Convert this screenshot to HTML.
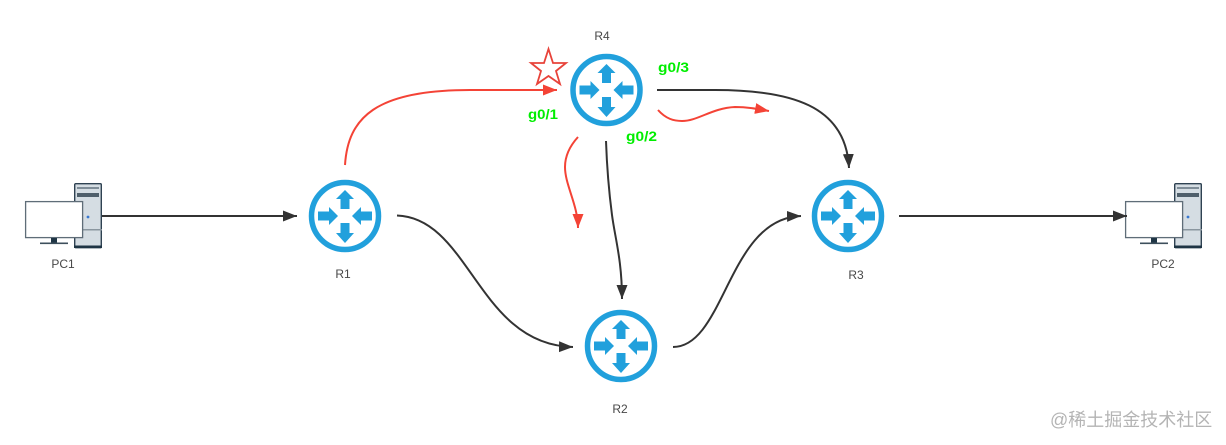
<!DOCTYPE html>
<html>
<head>
<meta charset="utf-8">
<style>
html,body{margin:0;padding:0;background:#fff;width:1226px;height:445px;overflow:hidden}
svg{display:block}
.l{font-family:"Liberation Sans",sans-serif;font-size:12px;fill:#484848}
.g{font-family:"Liberation Sans",sans-serif;font-size:14px;font-weight:bold;fill:#00ee00}
.w{font-family:"Liberation Sans","Noto Sans CJK SC",sans-serif;font-size:18px;fill:#b4b4b4}
</style>
</head>
<body>
<svg width="1226" height="445" viewBox="0 0 1226 445" xmlns="http://www.w3.org/2000/svg">
<defs>
<g id="router">
<circle cx="0" cy="0" r="33.5" fill="#fff" stroke="#21a0dc" stroke-width="5.5"/>
<g fill="#21a0dc">
<polygon points="0,-26 9,-17 4.5,-17 4.5,-7 -4.5,-7 -4.5,-17 -9,-17"/>
<polygon points="0,27 9,17 4.5,17 4.5,7 -4.5,7 -4.5,17 -9,17"/>
<polygon points="-7,0 -16,-9 -16,-4.5 -27,-4.5 -27,4.5 -16,4.5 -16,9"/>
<polygon points="7,0 16,-9 16,-4.5 27,-4.5 27,4.5 16,4.5 16,9"/>
</g>
</g>
<g id="tower">
<rect x="0.7" y="0.7" width="26.6" height="64" rx="1" fill="#d5dde3" stroke="#2f4252" stroke-width="1.4"/>
<rect x="0" y="62.5" width="28" height="2.5" fill="#1f3545"/>
<rect x="3" y="4" width="22" height="2" fill="#7f8d98"/>
<rect x="3" y="10" width="22" height="4" fill="#4f5f6b"/>
<rect x="0" y="46" width="28" height="1.5" fill="#8a969f"/>
<circle cx="14" cy="34" r="1.4" fill="#3a78d0"/>
</g>
<g id="monitor">
<rect x="0.6" y="0.6" width="57" height="36" fill="#fff" stroke="#5f6d78" stroke-width="1.3"/>
<rect x="26" y="37" width="6" height="5" fill="#1f3545"/>
<rect x="15" y="41.5" width="28" height="1.6" fill="#3d4f5c"/>
</g>
<marker id="ab" markerUnits="userSpaceOnUse" markerWidth="15" markerHeight="12" refX="14" refY="5.5" orient="auto">
<polygon points="0,0 14,5.5 0,11" fill="#333"/>
</marker>
<marker id="ar" markerUnits="userSpaceOnUse" markerWidth="15" markerHeight="12" refX="14" refY="5.5" orient="auto">
<polygon points="0,0 14,5.5 0,11" fill="#f44336"/>
</marker>
</defs>

<!-- PCs -->
<use href="#tower" x="74" y="183"/>
<use href="#monitor" x="25" y="201"/>
<use href="#tower" x="1174" y="183"/>
<use href="#monitor" x="1125" y="201"/>

<!-- black connectors -->
<g fill="none" stroke="#333" stroke-width="2">
<path d="M102 216H297" marker-end="url(#ab)"/>
<path d="M899 216H1127" marker-end="url(#ab)"/>
<path d="M397 215.5C470 218 478 345 573 347" marker-end="url(#ab)"/>
<path d="M673 347C725 347 728 218 801 216" marker-end="url(#ab)"/>
<path d="M606 141C607 170 609 192 612 215C615 238 622 260 622 299" marker-end="url(#ab)"/>
<path d="M657 90H715C790 90 846 105 849 168" marker-end="url(#ab)"/>
</g>

<!-- red connectors -->
<g fill="none" stroke="#f44336" stroke-width="2">
<path d="M345 165C348 118 375 90 470 90H557" marker-end="url(#ar)"/>
<path d="M658 110C666 119 674 121 682 121C698 121 712 108 735 107C748 107 758 109 769 111" marker-end="url(#ar)"/>
<path d="M578 137C568 148 565 158 565 167C565 185 578 205 578 228" marker-end="url(#ar)"/>
</g>

<!-- routers -->
<use href="#router" x="345" y="216"/>
<use href="#router" x="606.5" y="90"/>
<use href="#router" x="621" y="346"/>
<use href="#router" x="848" y="216"/>

<!-- star -->
<polygon points="548.5,49 553,63 566,63 556,71 560,84 548.5,76 537,84 541,71 531,63 544,63" fill="#fff" stroke="#e8433a" stroke-width="1.8"/>

<!-- labels -->
<text class="l" x="63" y="268" text-anchor="middle">PC1</text>
<text class="l" x="343" y="278" text-anchor="middle">R1</text>
<text class="l" x="602" y="40" text-anchor="middle">R4</text>
<text class="l" x="620" y="413" text-anchor="middle">R2</text>
<text class="l" x="856" y="279" text-anchor="middle">R3</text>
<text class="l" x="1163" y="268" text-anchor="middle">PC2</text>

<text class="g" x="658" y="72" textLength="31" lengthAdjust="spacingAndGlyphs">g0/3</text>
<text class="g" x="528" y="119" textLength="30" lengthAdjust="spacingAndGlyphs">g0/1</text>
<text class="g" x="626" y="141" textLength="31" lengthAdjust="spacingAndGlyphs">g0/2</text>

<text class="w" x="1050" y="426">@稀土掘金技术社区</text>
</svg>
</body>
</html>
